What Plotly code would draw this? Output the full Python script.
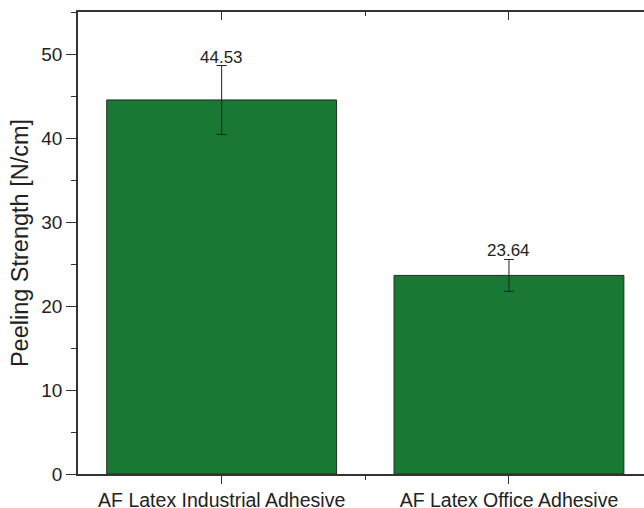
import plotly.graph_objects as go

categories = ["AF Latex Industrial Adhesive", "AF Latex Office Adhesive"]
values = [44.53, 23.64]
errors = [4.1, 1.9]
value_labels = ["44.53", "23.64"]
y_ticks = [0, 10, 20, 30, 40, 50]

xpos = list(range(len(categories)))
FAM = "Liberation Sans, Arial, Helvetica, sans-serif"

fig = go.Figure()
fig.add_trace(go.Bar(
    x=xpos, y=values, width=0.8,
    marker=dict(color="#1a7835", line=dict(color="#1e2e1e", width=1)),
    error_y=dict(type="data", array=errors, visible=True, color="#222222", thickness=1, width=5),
    showlegend=False, hoverinfo="skip",
))
# invisible trace to bind the top axis
fig.add_trace(go.Scatter(x=xpos, y=values, xaxis="x2", mode="markers",
                         marker=dict(opacity=0), showlegend=False, hoverinfo="skip"))

for i, (v, e, t) in enumerate(zip(values, errors, value_labels)):
    fig.add_annotation(x=i, y=v + e, text=t, showarrow=False, yanchor="bottom", yshift=-3,
                       font=dict(family=FAM, size=17, color="#222222"))

axis_font = dict(family=FAM, size=19, color="#222222")
xr = [-0.5, 1.47]

fig.update_layout(
    width=644, height=508,
    margin=dict(l=78, r=0, t=12, b=34),
    plot_bgcolor="white", paper_bgcolor="white",
    font=axis_font,
    xaxis=dict(
        range=xr, tickmode="array", tickvals=xpos, ticktext=categories,
        showline=True, linecolor="#333333", linewidth=1.5,
        ticks="outside", ticklen=8, tickcolor="#333333", tickwidth=1.2,
        showgrid=False, zeroline=False, automargin=False,
        tickfont=dict(family=FAM, size=19.5, color="#222222"),
        minor=dict(tickmode="array", tickvals=[0.5], ticks="outside", ticklen=4,
                   tickcolor="#333333", tickwidth=1.2, showgrid=False),
    ),
    xaxis2=dict(
        range=xr, overlaying="x", side="top", tickmode="array", tickvals=xpos,
        showticklabels=False, showline=True, linecolor="#333333", linewidth=1.5,
        ticks="inside", ticklen=8, tickcolor="#333333", tickwidth=1.2,
        showgrid=False, zeroline=False,
        minor=dict(tickmode="array", tickvals=[0.5], ticks="inside", ticklen=4,
                   tickcolor="#333333", tickwidth=1.2, showgrid=False),
    ),
    yaxis=dict(
        range=[0, 55], tickmode="array", tickvals=y_ticks,
        showline=True, linecolor="#333333", linewidth=1.5,
        ticks="outside", ticklen=10, tickcolor="#333333", tickwidth=1.2,
        showgrid=False, zeroline=False, automargin=False,
        tickfont=axis_font,
        title=dict(text="Peeling Strength [N/cm]", standoff=6,
                   font=dict(family=FAM, size=23.5, color="#222222")),
        minor=dict(dtick=5, tick0=0, ticks="outside", ticklen=5,
                   tickcolor="#333333", tickwidth=1.2, showgrid=False),
    ),
)

fig.write_html("out.html")
